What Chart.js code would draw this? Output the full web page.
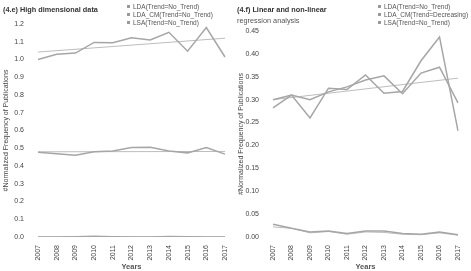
<!DOCTYPE html>
<html>
<head>
<meta charset="utf-8">
<script src="https://cdn.jsdelivr.net/npm/chart.js@4.4.1/dist/chart.umd.min.js"></script>
<style>
  body { margin: 0; background: #fff; width: 471px; height: 271px; overflow: hidden; font-family: 'Liberation Sans', Arial, sans-serif; }
  .panel { position: absolute; top: 0; height: 271px; }
  .title { position: absolute; font-size: 7.3px; color: #333; white-space: nowrap; }
  .legend { position: absolute; font-size: 6.5px; color: #555; line-height: 8px; white-space: nowrap; }
  .legend span { display: inline-block; width: 3px; height: 3px; background: #999; margin-right: 3px; vertical-align: middle; position: relative; top: -1px; }
</style>
</head>
<body>
<div class="panel" style="left:0;width:235px"><canvas id="chartE"></canvas></div>
<div class="panel" style="left:235px;width:236px"><canvas id="chartF"></canvas></div>

<div class="title" style="left:3px;top:5px;font-weight:bold">(4.e) High dimensional data</div>
<div class="legend" id="legendE" style="left:127px;top:3px"></div>

<div class="title" style="left:237px;top:5px;font-weight:bold">(4.f) Linear and non-linear</div>
<div class="title" style="left:237px;top:16px;color:#555">regression analysis</div>
<div class="legend" id="legendF" style="left:378px;top:3px"></div>

<script>
// --- DATA ---
const years = ['2007', '2008', '2009', '2010', '2011', '2012', '2013', '2014', '2015', '2016', '2017'];

// (4.e) High dimensional data
const labelsE = ['LDA(Trend=No_Trend)', 'LDA_CM(Trend=No_Trend)', 'LSA(Trend=No_Trend)'];
const ldaE   = [1.00, 1.03, 1.036, 1.096, 1.094, 1.123, 1.11, 1.153, 1.047, 1.18, 1.014];
const ldaCmE = [0.478, 0.469, 0.46, 0.48, 0.485, 0.504, 0.505, 0.485, 0.474, 0.504, 0.467];
const lsaE   = [0.0, 0.0, 0.002, 0.004, 0.002, 0.0, 0.0, 0.003, 0.002, 0.0, 0.0];
const trendLdaE   = [1.042, null, null, null, null, null, null, null, null, null, 1.12];
const trendLdaCmE = [0.48, null, null, null, null, null, null, null, null, null, 0.482];
const trendLsaE   = [0.001, null, null, null, null, null, null, null, null, null, 0.001];

// (4.f) Linear and non-linear regression analysis
const labelsF = ['LDA(Trend=No_Trend)', 'LDA_CM(Trend=Decreasing)', 'LSA(Trend=No_Trend)'];
const ldaF   = [0.30, 0.31, 0.26, 0.325, 0.322, 0.354, 0.314, 0.318, 0.385, 0.437, 0.232];
const ldaCmF = [0.282, 0.31, 0.30, 0.317, 0.328, 0.343, 0.352, 0.313, 0.358, 0.371, 0.293];
const lsaF   = [0.028, 0.019, 0.011, 0.013, 0.0075, 0.013, 0.013, 0.0075, 0.006, 0.011, 0.005];
const lsaF2  = [0.022, 0.019, 0.009, 0.012, 0.006, 0.011, 0.010, 0.006, 0.005, 0.009, 0.004];
const trendLdaF = [0.30, null, null, null, null, null, null, null, null, null, 0.347];

// --- HELPERS ---
const FONT = "'Liberation Sans', Arial, sans-serif";
Chart.defaults.font.family = FONT;
Chart.defaults.color = '#444';

function line(data, trend) {
    return {
        data: data,
        borderColor: trend ? '#bdbdbd' : '#a6a6a6',
        borderWidth: trend ? 1 : 1.5,
        pointRadius: 0,
        tension: 0,
        spanGaps: true
    };
}

function makeChart(id, datasets, yMax, yStep, padTop, padRight) {
    return new Chart(document.getElementById(id), {
        type: 'line',
        data: { labels: years, datasets: datasets },
        options: {
            responsive: true,
            maintainAspectRatio: false,
            animation: false,
            layout: { padding: { top: padTop, right: padRight, left: 0, bottom: 0 } },
            plugins: { legend: { display: false }, tooltip: { enabled: false } },
            scales: {
                x: {
                    grid: { display: false },
                    border: { display: false },
                    ticks: { autoSkip: false, minRotation: 90, maxRotation: 90, padding: 0, font: { size: 7 }, color: '#444' },
                    title: { display: true, text: 'Years', font: { size: 7.5, weight: 'bold' }, color: '#555', padding: 0 },
                    afterFit: (s) => { s.height = 34; }
                },
                y: {
                    min: 0,
                    max: yMax,
                    grid: { display: false },
                    border: { display: false },
                    ticks: { stepSize: yStep, padding: 6, font: { size: 7 }, color: '#444',
                             callback: (v) => v.toFixed(yStep < 0.1 ? 2 : 1) },
                    title: { display: true, text: '#Normalized Frequency of Publications', font: { size: 7 }, color: '#444', padding: { top: 2, bottom: 0 } },
                    afterFit: (s) => { s.width = 38; }
                }
            }
        }
    });
}

function fillLegend(id, labels) {
    document.getElementById(id).innerHTML = labels.map(l => '<div><span></span>' + l + '</div>').join('');
}

// --- CHARTS ---
makeChart('chartE', [
    line(ldaE), line(ldaCmE), line(lsaE),
    line(trendLdaE, true), line(trendLdaCmE, true), line(trendLsaE, true)
], 1.2, 0.1, 24, 10);

makeChart('chartF', [
    line(ldaF), line(ldaCmF), line(lsaF),
    line(trendLdaF, true), line(lsaF2, true)
], 0.45, 0.05, 31, 13);

fillLegend('legendE', labelsE);
fillLegend('legendF', labelsF);
</script>
</body>
</html>
